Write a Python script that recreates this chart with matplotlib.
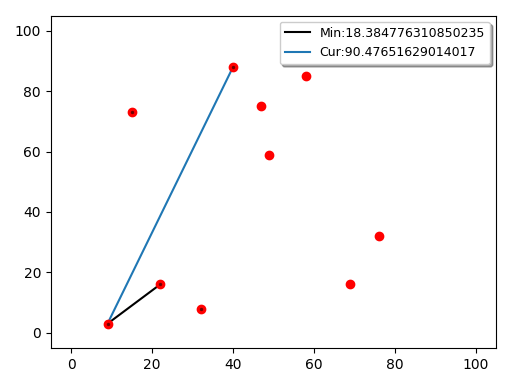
import numpy as np
import matplotlib
matplotlib.use('Agg')
import matplotlib.pyplot as plt

# city coordinates
xs = [9, 15, 22, 32, 40, 47, 58, 49, 69, 76]
ys = [3, 73, 16, 8, 88, 75, 85, 59, 16, 32]
# points already touched by the search (dark centre)
seen = [0, 1, 2, 3, 4]

# best edge and current edge (indices into the point lists)
best_edge = [0, 2]
cur_edge = [0, 4]

def dist(a, b):
    return np.hypot(xs[a] - xs[b], ys[a] - ys[b])

fig = plt.figure(figsize=(5.24, 3.81), dpi=100)
ax = fig.add_axes((0.097, 0.087, 0.85, 0.872))

ax.scatter(xs, ys, color='red', s=36, zorder=2)
ax.scatter([xs[i] for i in seen], [ys[i] for i in seen], color='#700000', s=2, zorder=3)

ax.plot([xs[i] for i in best_edge], [ys[i] for i in best_edge], color='black',
        label='Min:' + str(dist(*best_edge)), zorder=1)
ax.plot([xs[i] for i in cur_edge], [ys[i] for i in cur_edge], color='#1f77b4',
        label='Cur:' + str(dist(*cur_edge)), zorder=1)

ax.set_xlim(-5, 105)
ax.set_ylim(-5, 105)
ax.set_xticks([0, 20, 40, 60, 80, 100])
ax.set_yticks([0, 20, 40, 60, 80, 100])
ax.legend(loc='upper right', shadow=True, fontsize=9)

fig.savefig('out.png')
